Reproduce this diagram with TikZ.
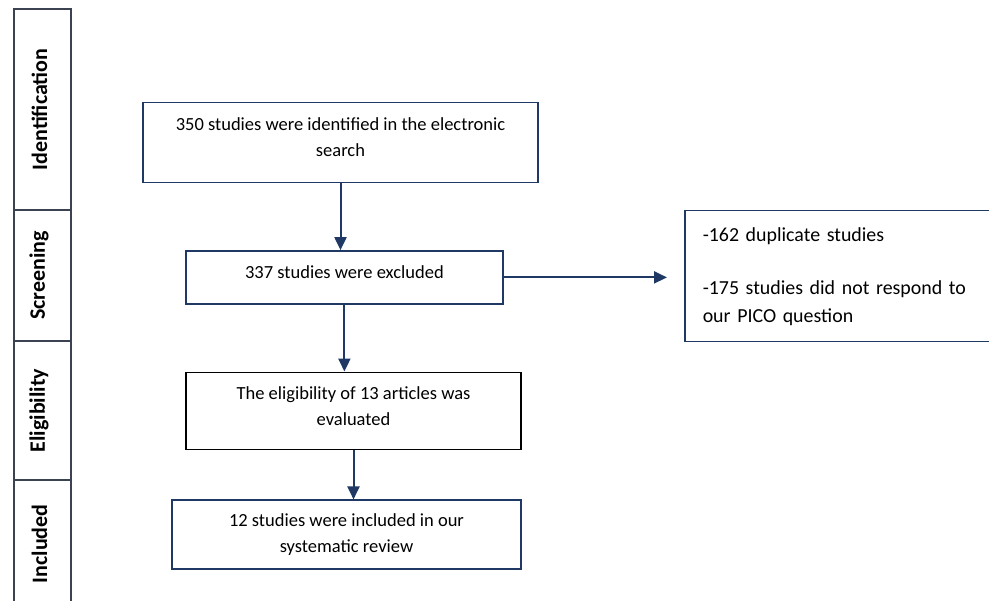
\documentclass[tikz,border=0pt]{standalone}
\usepackage{fontspec}
\setmainfont{Carlito}
\usetikzlibrary{arrows.meta}
\definecolor{flowblue}{HTML}{1F3864}
\definecolor{phasegray}{HTML}{3B4252}

\begin{document}
\begin{tikzpicture}[x=1pt,y=-1pt,
  box/.style={draw=flowblue,line width=1.5pt,align=center,inner sep=0pt,font=\fontsize{18.5}{26}\selectfont},
  phase/.style={draw=phasegray,line width=1.2pt,rotate=90,minimum height=57pt,inner sep=0pt,font=\fontsize{22}{24}\selectfont\bfseries},
  flow/.style={draw=flowblue,line width=2pt,-{Triangle[length=13pt,width=12pt]}}]
\useasboundingbox (0,0) rectangle (989,601);
\clip (0,0) rectangle (989,601);

\node(ident)[phase,text depth=6pt,minimum width=201pt] at (42.5,109.5) {Identification\hspace{13pt}};
\node(screen)[phase,text depth=10.5pt,minimum width=131pt] at (42.5,275.5) {Screening\hspace{6pt}};
\node(elig)[phase,text depth=10.5pt,minimum width=139pt] at (42.5,410.5) {Eligibility\hspace{6.5pt}};
\node(incl)[phase,text depth=6pt,minimum width=127.6pt] at (42.5,543.8) {Included};

\node(found)[box,text depth=11pt,minimum width=395pt,minimum height=80pt] at (340.5,142.3) {350 studies were identified in the electronic\\search};
\node(excl)[box,text depth=11pt,minimum width=317pt,minimum height=53pt] at (344.4,277.4) {337 studies were excluded};
\node(eval)[box,text depth=10pt,draw=black,minimum width=335pt,minimum height=77pt] at (353.5,410.8) {The eligibility of 13 articles was\\evaluated};
\node(kept)[box,minimum width=349pt,minimum height=69pt] at (346.5,534.7) {12 studies were included in our\\systematic review};
\node(reasons)[box,anchor=north west,align=left,text width=275pt,inner xsep=18pt,minimum height=131pt,font=\fontsize{19.9}{28}\selectfont] at (684,210) {-162 duplicate studies\\[25pt]-175 studies did not respond to\\our PICO question};

\draw[flow] (found) -- (found |- excl.north);
\draw[flow] (excl.south) -- (excl.south |- eval.north);
\draw[flow] (eval) -- (eval |- kept.north);
\draw[flow,shorten >=17pt] (excl) -- (excl -| reasons.west);

\end{tikzpicture}
\end{document}
